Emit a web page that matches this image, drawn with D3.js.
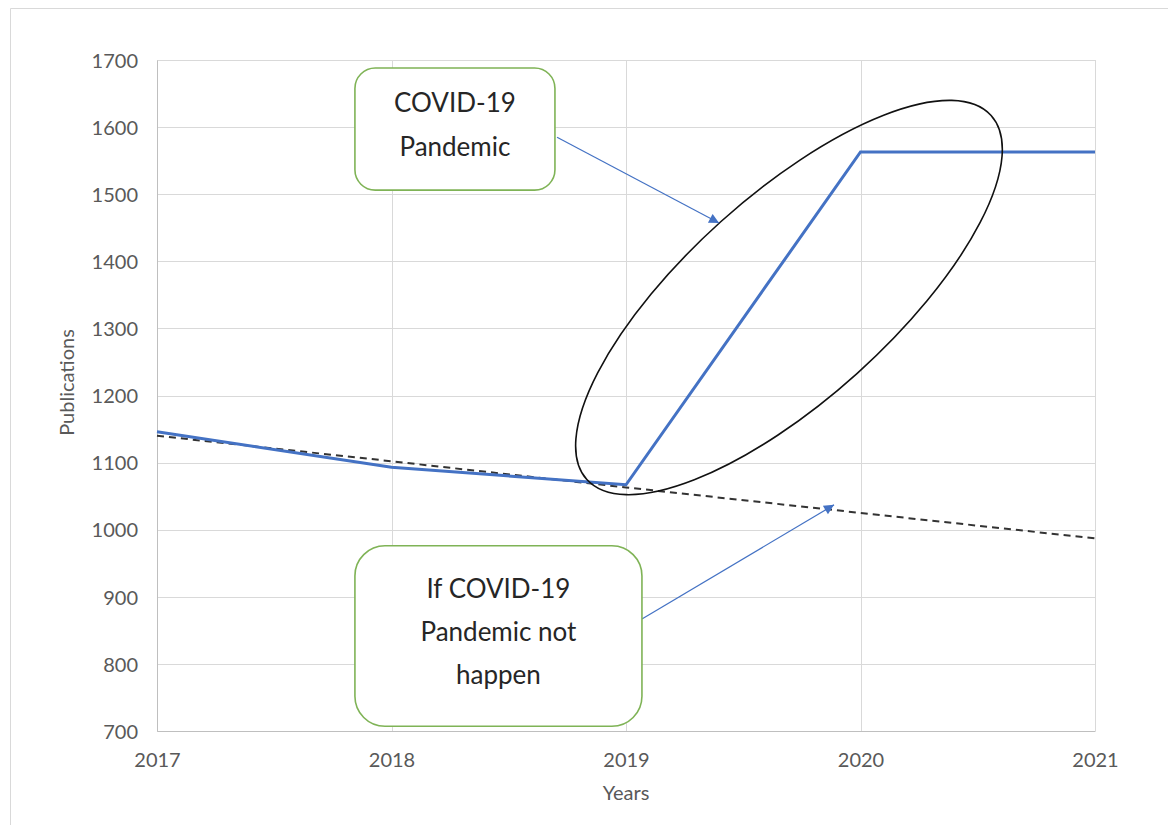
<!DOCTYPE html>
<html>
<head>
<meta charset="utf-8">
<script src="https://cdn.jsdelivr.net/npm/d3@7"></script>
<style>
  html, body { margin: 0; padding: 0; background: #fff; }
  svg { display: block; }
  text { font-family: Lato, "Open Sans", sans-serif; }
</style>
</head>
<body>
<svg id="chart" width="1175" height="825"></svg>
<script>
// ---- data ----
const years = [2017, 2018, 2019, 2020, 2021];
const publications = [1146, 1093, 1067, 1563, 1563];
const trendNoCovid = [1140, 1102, 1063, 1025, 987];
const yTicks = [700, 800, 900, 1000, 1100, 1200, 1300, 1400, 1500, 1600, 1700];
const xTickLabels = ["2017", "2018", "2019", "2020", "2021"];

// annotations, in data units
const callouts = [
  { lines: ["COVID-19", "Pandemic"], x0: 2017.844, x1: 2018.697, y0: 1688, y1: 1506,
    from: [2018.706, 1585], to: [2019.397, 1457] },
  { lines: ["If COVID-19", "Pandemic not", "happen"], x0: 2017.844, x1: 2019.068, y0: 976, y1: 707,
    from: [2019.068, 867], to: [2019.887, 1037] }
];
const highlight = { year: 2019.695, value: 1346 };

// ---- layout ----
const svg = d3.select("#chart");
const W = 1175, H = 825;
const margin = { left: 157, right: 80, top: 60, bottom: 94 };

const x = d3.scaleLinear().domain([2017, 2021]).range([margin.left, W - margin.right]);
const y = d3.scaleLinear().domain([700, 1700]).range([H - margin.bottom, margin.top]);

// outer chart frame
svg.append("path")
  .attr("d", `M10.5,${H} L10.5,8.5 L1168,8.5`)
  .attr("fill", "none").attr("stroke", "#d9d9d9").attr("stroke-width", 1);

// gridlines
svg.append("g").selectAll("line.h").data(yTicks).join("line")
  .attr("x1", x(2017)).attr("x2", x(2021))
  .attr("y1", d => Math.round(y(d)) + 0.5).attr("y2", d => Math.round(y(d)) + 0.5)
  .attr("stroke", "#d9d9d9").attr("stroke-width", 1);
svg.append("g").selectAll("line.v").data(years).join("line")
  .attr("x1", d => Math.round(x(d)) + 0.5).attr("x2", d => Math.round(x(d)) + 0.5)
  .attr("y1", y(1700)).attr("y2", y(700))
  .attr("stroke", "#d9d9d9").attr("stroke-width", 1);

// axes
const yAxis = d3.axisLeft(y).tickValues(yTicks).tickSize(0).tickPadding(19).tickFormat(d3.format("d"));
const gy = svg.append("g").attr("transform", `translate(${x(2017)},0)`).call(yAxis);
gy.select(".domain").attr("stroke", "#bfbfbf");
gy.selectAll("text").attr("fill", "#595959").style("font-size", "20px").attr("dy", "0.36em");

const xAxis = d3.axisBottom(x).tickValues(years).tickSize(0).tickPadding(22)
  .tickFormat((d, i) => xTickLabels[i]);
const gx = svg.append("g").attr("transform", `translate(0,${y(700)})`).call(xAxis);
gx.select(".domain").attr("stroke", "#bfbfbf");
gx.selectAll("text").attr("fill", "#595959").style("font-size", "20px").attr("dy", "0.71em");

// axis titles
svg.append("text").attr("x", (x(2017) + x(2021)) / 2).attr("y", 800)
  .attr("text-anchor", "middle").attr("fill", "#595959").style("font-size", "20px").text("Years");
svg.append("text").attr("transform", `translate(74,${(y(700) + y(1700)) / 2 - 13}) rotate(-90)`)
  .attr("text-anchor", "middle").attr("fill", "#595959").style("font-size", "20px").text("Publications");

// lines
const line = d3.line().x((d, i) => x(years[i])).y(d => y(d));
svg.append("path").datum(trendNoCovid).attr("d", line)
  .attr("fill", "none").attr("stroke", "#333").attr("stroke-width", 2).attr("stroke-dasharray", "7,5");
svg.append("path").datum(publications).attr("d", line)
  .attr("fill", "none").attr("stroke", "#4472C4").attr("stroke-width", 3).attr("stroke-linejoin", "miter");

// highlight ellipse
svg.append("ellipse")
  .attr("transform", `translate(${x(highlight.year)},${y(highlight.value)}) rotate(-42)`)
  .attr("rx", 272).attr("ry", 102)
  .attr("fill", "none").attr("stroke", "#111").attr("stroke-width", 1.6);

// arrow marker
svg.append("defs").append("marker")
  .attr("id", "arrow").attr("viewBox", "0 0 10 10").attr("refX", 10).attr("refY", 5)
  .attr("markerWidth", 12).attr("markerHeight", 10).attr("markerUnits", "userSpaceOnUse")
  .attr("orient", "auto")
  .append("path").attr("d", "M0,0 L10,5 L0,10 Z").attr("fill", "#4472C4");

// callouts
callouts.forEach(c => {
  svg.append("line")
    .attr("x1", x(c.from[0])).attr("y1", y(c.from[1]))
    .attr("x2", x(c.to[0])).attr("y2", y(c.to[1]))
    .attr("stroke", "#4472C4").attr("stroke-width", 1.2).attr("marker-end", "url(#arrow)");
  const bx = x(c.x0), bw = x(c.x1) - x(c.x0);
  const by = y(c.y0), bh = y(c.y1) - y(c.y0);
  const r = Math.min(bw, bh) / 6;
  svg.append("rect").attr("x", bx).attr("y", by).attr("width", bw).attr("height", bh)
    .attr("rx", r).attr("ry", r)
    .attr("fill", "#fff").attr("stroke", "#7fb356").attr("stroke-width", 1.6);
  const cx = bx + bw / 2, cy = by + bh / 2;
  const lh = c.lines.length === 2 ? 44 : 43;
  const first = cy - (c.lines.length - 1) / 2 * lh + 5;
  svg.append("g").selectAll("text").data(c.lines).join("text")
    .attr("x", cx).attr("y", (d, i) => first + i * lh)
    .attr("text-anchor", "middle").attr("fill", "#262626").style("font-size", "26px")
    .text(d => d);
});
</script>
</body>
</html>
